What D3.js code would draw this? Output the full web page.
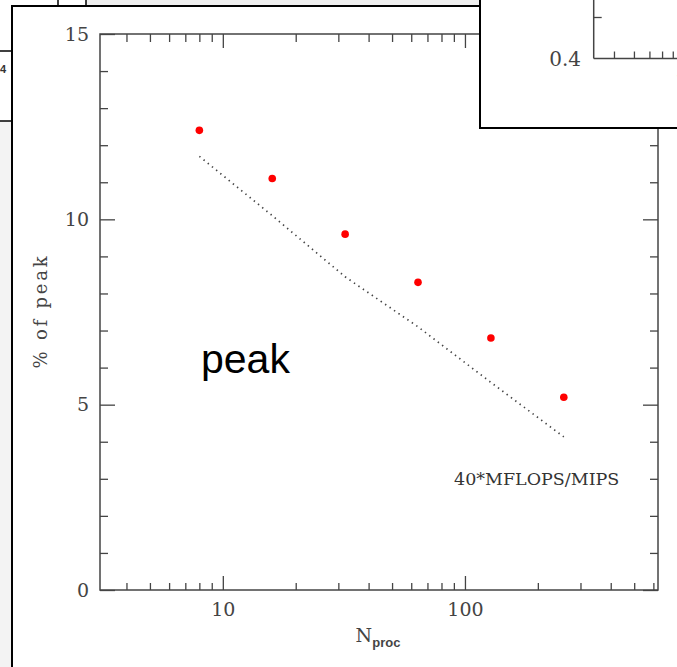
<!DOCTYPE html>
<html>
<head>
<meta charset="utf-8">
<script src="https://cdn.jsdelivr.net/npm/d3@7"></script>
<style>
  body { margin: 0; background: #fff; }
  svg { display: block; }
  .tick text { font-family: "DejaVu Serif", serif; fill: #444; }
</style>
</head>
<body>
<svg id="chart" width="677" height="667"></svg>
<script>
// data
const nproc = [8, 16, 32, 64, 128, 256];
const pctPeak = [12.4, 11.1, 9.6, 8.3, 6.8, 5.2];
const mflopsMips = [11.7, 10.1, 8.45, 7.1, 5.6, 4.13];
const xMajor = [10, 100];
const yMajor = [0, 5, 10, 15];
const yMinor = d3.range(0, 16);

let svg = d3.select("#chart");

// ---- background windows behind the main panel
svg.append("rect").attr("x", 86).attr("y", 0).attr("width", 400).attr("height", 6).attr("fill", "#efefef");
svg.append("rect").attr("x", 0).attr("y", 121).attr("width", 12).attr("height", 546).attr("fill", "#f3f3f3");
svg.append("line").attr("x1", 58).attr("x2", 58).attr("y1", 0).attr("y2", 6).attr("stroke", "#000").attr("stroke-width", 1.5);
svg.append("line").attr("x1", 86).attr("x2", 86).attr("y1", 0).attr("y2", 6).attr("stroke", "#000").attr("stroke-width", 1.5);
svg.append("line").attr("x1", 0).attr("x2", 12).attr("y1", 51).attr("y2", 51).attr("stroke", "#000").attr("stroke-width", 1.5);
svg.append("line").attr("x1", 0).attr("x2", 12).attr("y1", 121).attr("y2", 121).attr("stroke", "#000").attr("stroke-width", 1.5);
svg.append("text").attr("x", 6).attr("y", 73).attr("text-anchor", "end")
    .style("font", "bold 11px 'Liberation Sans', sans-serif").attr("fill", "#333").text("4");

// main panel border
svg.append("line").attr("x1", 12).attr("x2", 12).attr("y1", 5).attr("y2", 667).attr("stroke", "#000").attr("stroke-width", 2);
svg.append("line").attr("x1", 11).attr("x2", 480).attr("y1", 6).attr("y2", 6).attr("stroke", "#000").attr("stroke-width", 2);

// ---- main chart
let x = d3.scaleLog().domain([3.11, 627]).range([100, 658]);
let y = d3.scaleLinear().domain([0, 15]).range([590, 34]);

let xMinor = x.ticks().filter(d => xMajor.indexOf(d) < 0);
let yMinorOnly = yMinor.filter(d => yMajor.indexOf(d) < 0);

let gAxes = svg.append("g").attr("class", "axes");

function styleAxis(g) {
    g.select(".domain").remove();
    g.selectAll(".tick line").attr("stroke", "#444").attr("stroke-width", 1.3);
}

// bottom
gAxes.append("g").attr("transform", "translate(0,590)")
    .call(d3.axisBottom(x).tickValues(xMajor).tickSize(-14).tickPadding(13).tickFormat(d3.format("d")))
    .call(styleAxis)
    .selectAll("text").style("font-size", "19px");
gAxes.append("g").attr("transform", "translate(0,590)")
    .call(d3.axisBottom(x).tickValues(xMinor).tickSize(-7).tickFormat(""))
    .call(styleAxis);
// top
gAxes.append("g").attr("transform", "translate(0,34)")
    .call(d3.axisTop(x).tickValues(xMajor).tickSize(-14).tickFormat(""))
    .call(styleAxis);
gAxes.append("g").attr("transform", "translate(0,34)")
    .call(d3.axisTop(x).tickValues(xMinor).tickSize(-8).tickFormat(""))
    .call(styleAxis);
// left
gAxes.append("g").attr("transform", "translate(100,0)")
    .call(d3.axisLeft(y).tickValues(yMajor).tickSize(-15).tickPadding(11))
    .call(styleAxis)
    .selectAll("text").style("font-size", "19px");
gAxes.append("g").attr("transform", "translate(100,0)")
    .call(d3.axisLeft(y).tickValues(yMinorOnly).tickSize(-8).tickFormat(""))
    .call(styleAxis);
// right
gAxes.append("g").attr("transform", "translate(658,0)")
    .call(d3.axisRight(y).tickValues(yMajor).tickSize(-15).tickFormat(""))
    .call(styleAxis);
gAxes.append("g").attr("transform", "translate(658,0)")
    .call(d3.axisRight(y).tickValues(yMinorOnly).tickSize(-8).tickFormat(""))
    .call(styleAxis);

// frame
svg.append("rect")
    .attr("x", x.range()[0]).attr("y", y.range()[1])
    .attr("width", x.range()[1] - x.range()[0])
    .attr("height", y.range()[0] - y.range()[1])
    .attr("fill", "none").attr("stroke", "#444").attr("stroke-width", 1.5);

// axis titles
svg.append("text")
    .attr("transform", "translate(47,311) rotate(-90)")
    .attr("text-anchor", "middle")
    .style("font", "18px 'DejaVu Serif', serif").style("letter-spacing", "2.8px")
    .attr("fill", "#444")
    .text("% of peak");

let xt = svg.append("text")
    .attr("x", 378).attr("y", 642)
    .attr("text-anchor", "middle")
    .attr("fill", "#444");
xt.append("tspan").style("font", "19px 'DejaVu Serif', serif").text("N");
xt.append("tspan").attr("dy", 5).style("font", "bold 13px 'Liberation Sans', sans-serif").text("proc");

// dotted model line
let line = d3.line()
    .x((d, i) => x(nproc[i]))
    .y(d => y(d));

svg.append("path")
    .datum(mflopsMips)
    .attr("d", line)
    .attr("fill", "none")
    .attr("stroke", "#444")
    .attr("stroke-width", 1.7)
    .attr("stroke-dasharray", "1.4,4");

// measured points
svg.selectAll("circle.pt")
    .data(pctPeak)
    .enter()
    .append("circle")
    .attr("class", "pt")
    .attr("cx", (d, i) => x(nproc[i]))
    .attr("cy", d => y(d))
    .attr("r", 3.8)
    .attr("fill", "#ff0000");

svg.append("text")
    .attr("x", 454).attr("y", 485)
    .style("font", "17.5px 'DejaVu Serif', serif")
    .attr("fill", "#333")
    .text("40*MFLOPS/MIPS");

svg.append("text")
    .attr("x", 201).attr("y", 373)
    .style("font", "41px 'Liberation Sans', Arial, sans-serif")
    .attr("fill", "#000")
    .text("peak");

// ---- inset window in the top right corner
let inset = svg.append("g").attr("class", "inset");
inset.append("rect").attr("x", 480).attr("y", -5).attr("width", 205).attr("height", 133)
    .attr("fill", "#fff").attr("stroke", "#000").attr("stroke-width", 2);

let ix = d3.scaleLog().domain([2.24, 7.44]).range([593.7, 677]);
let iy = d3.scaleLinear().domain([0.4, 0.45]).range([58.5, 17]);

inset.append("g").attr("transform", "translate(0,58.5)")
    .call(d3.axisBottom(ix).tickValues([3, 4, 5, 6, 7]).tickSize(-7).tickFormat(""))
    .call(styleAxis);
inset.append("g").attr("transform", "translate(593.7,0)")
    .call(d3.axisLeft(iy).tickValues([0.45]).tickSize(-8).tickFormat(""))
    .call(styleAxis);
inset.append("line").attr("x1", 593.7).attr("x2", 593.7).attr("y1", -2).attr("y2", 58.5)
    .attr("stroke", "#444").attr("stroke-width", 1.5);
inset.append("line").attr("x1", 593.7).attr("x2", 680).attr("y1", 58.5).attr("y2", 58.5)
    .attr("stroke", "#444").attr("stroke-width", 1.5);
inset.append("text").attr("x", 581).attr("y", 60).attr("dy", "0.32em")
    .attr("text-anchor", "end")
    .style("font", "20px 'DejaVu Serif', serif").attr("fill", "#444")
    .text("0.4");
inset.append("text").attr("x", 675).attr("y", 87)
    .style("font", "19px 'DejaVu Serif', serif").attr("fill", "#444")
    .text("10");
</script>
</body>
</html>
